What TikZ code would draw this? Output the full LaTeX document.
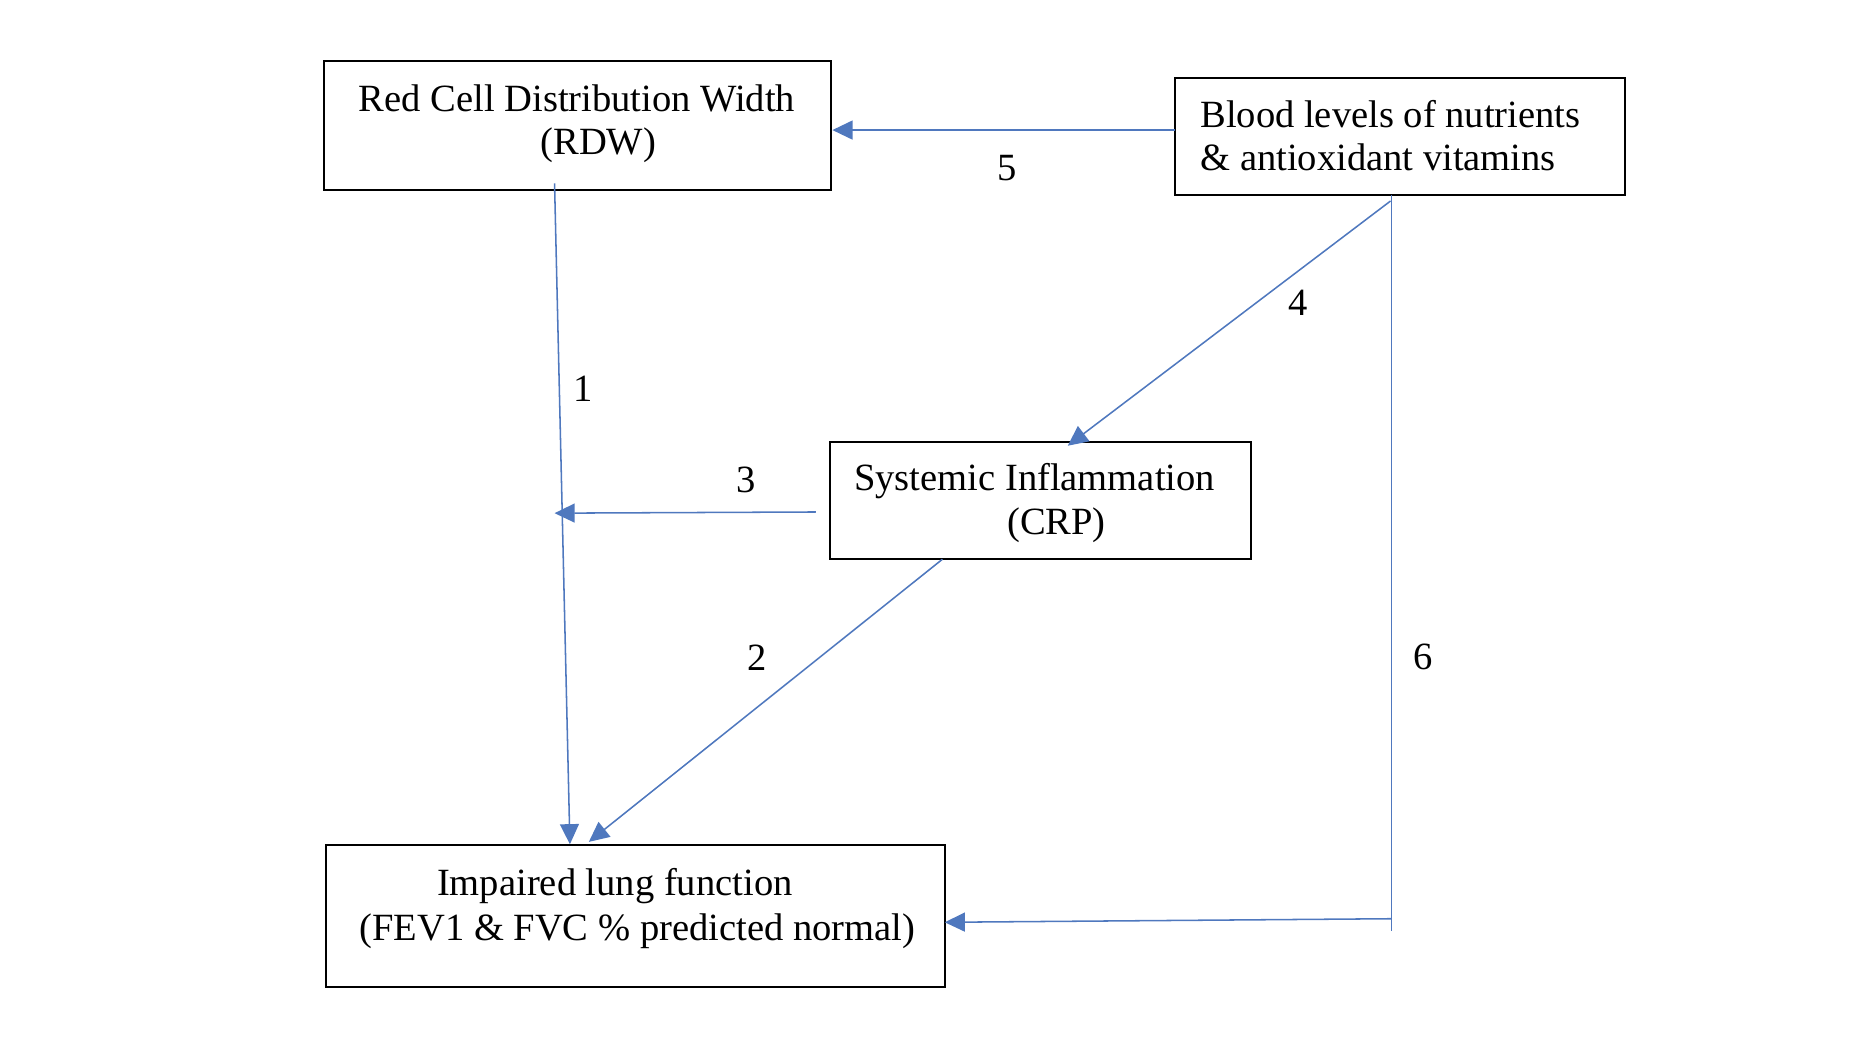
\documentclass[tikz,border=0pt]{standalone}
\usepackage{fontspec}
\setmainfont{Liberation Serif}
\usetikzlibrary{arrows.meta}
\definecolor{linkblue}{RGB}{79,120,190}
\begin{document}
\begin{tikzpicture}[x=1pt,y=-1pt,
  boxst/.style={draw=black,line width=1.7pt},
  txt/.style={inner sep=0pt,font=\fontsize{32.6}{37}\selectfont},
  lbl/.style={inner sep=0pt,font=\fontsize{32.6}{37}\selectfont},
  conn/.style={draw=linkblue,line width=1.3pt},
  arr/.style={conn,-{Triangle[width=16pt,length=17pt]}}]
\useasboundingbox (0,0) rectangle (1568,893);
% boxes
\draw[boxst] (274,52) rectangle (703,161);
\draw[boxst] (994,66) rectangle (1374,165);
\draw[boxst] (702,374) rectangle (1058,473);
\draw[boxst] (276,715) rectangle (799,835);
% texts
\node[txt,anchor=base] (rdw1) at (488,94) {Red Cell Distribution Width};
\node[txt,anchor=base] (rdw2) at (506,131) {(RDW)};
\node[txt,anchor=base west] (bl1) at (1015,108) {Blood levels of nutrients};
\node[txt,anchor=base west] (bl2) at (1015,144) {\& antioxidant vitamins};
\node[txt,anchor=base] (crp1) at (875,415) {Systemic Inflammation};
\node[txt,anchor=base] (crp2) at (893.5,452) {(CRP)};
\node[txt,anchor=base] (lf1) at (520,757) {Impaired lung function};
\node[txt,anchor=base] (lf2) at (539,795) {(FEV1 \& FVC \% predicted normal)};
% connector end points
\coordinate (s5) at (994,110);
\coordinate (e5) at (704,110);
\coordinate (s1) at (469,155);
\coordinate (e1) at (482,714);
\coordinate (s3) at (690,433);
\coordinate (e3) at (469,434);
\coordinate (s4) at (1176,170);
\coordinate (e4) at (903,377);
\coordinate (s2) at (797,473);
\coordinate (e2) at (498,712);
\coordinate (t6) at (1177,165);
\coordinate (b6) at (1177,787);
\coordinate (s6) at (1177,777);
\coordinate (e6) at (799,780);
% connectors
\draw[arr] (s5) -- (e5);
\draw[arr] (s1) -- (e1);
\draw[arr] (s3) -- (e3);
\draw[arr] (s4) -- (e4);
\draw[arr] (s2) -- (e2);
\draw[conn] (t6) -- (b6);
\draw[arr] (s6) -- (e6);
% labels
\node[lbl] (l5) at (852,142) {5};
\node[lbl] (l1) at (493,329) {1};
\node[lbl] (l3) at (631,406) {3};
\node[lbl] (l4) at (1098,256) {4};
\node[lbl] (l2) at (640,556) {2};
\node[lbl] (l6) at (1204,556) {6};
\end{tikzpicture}
\end{document}
